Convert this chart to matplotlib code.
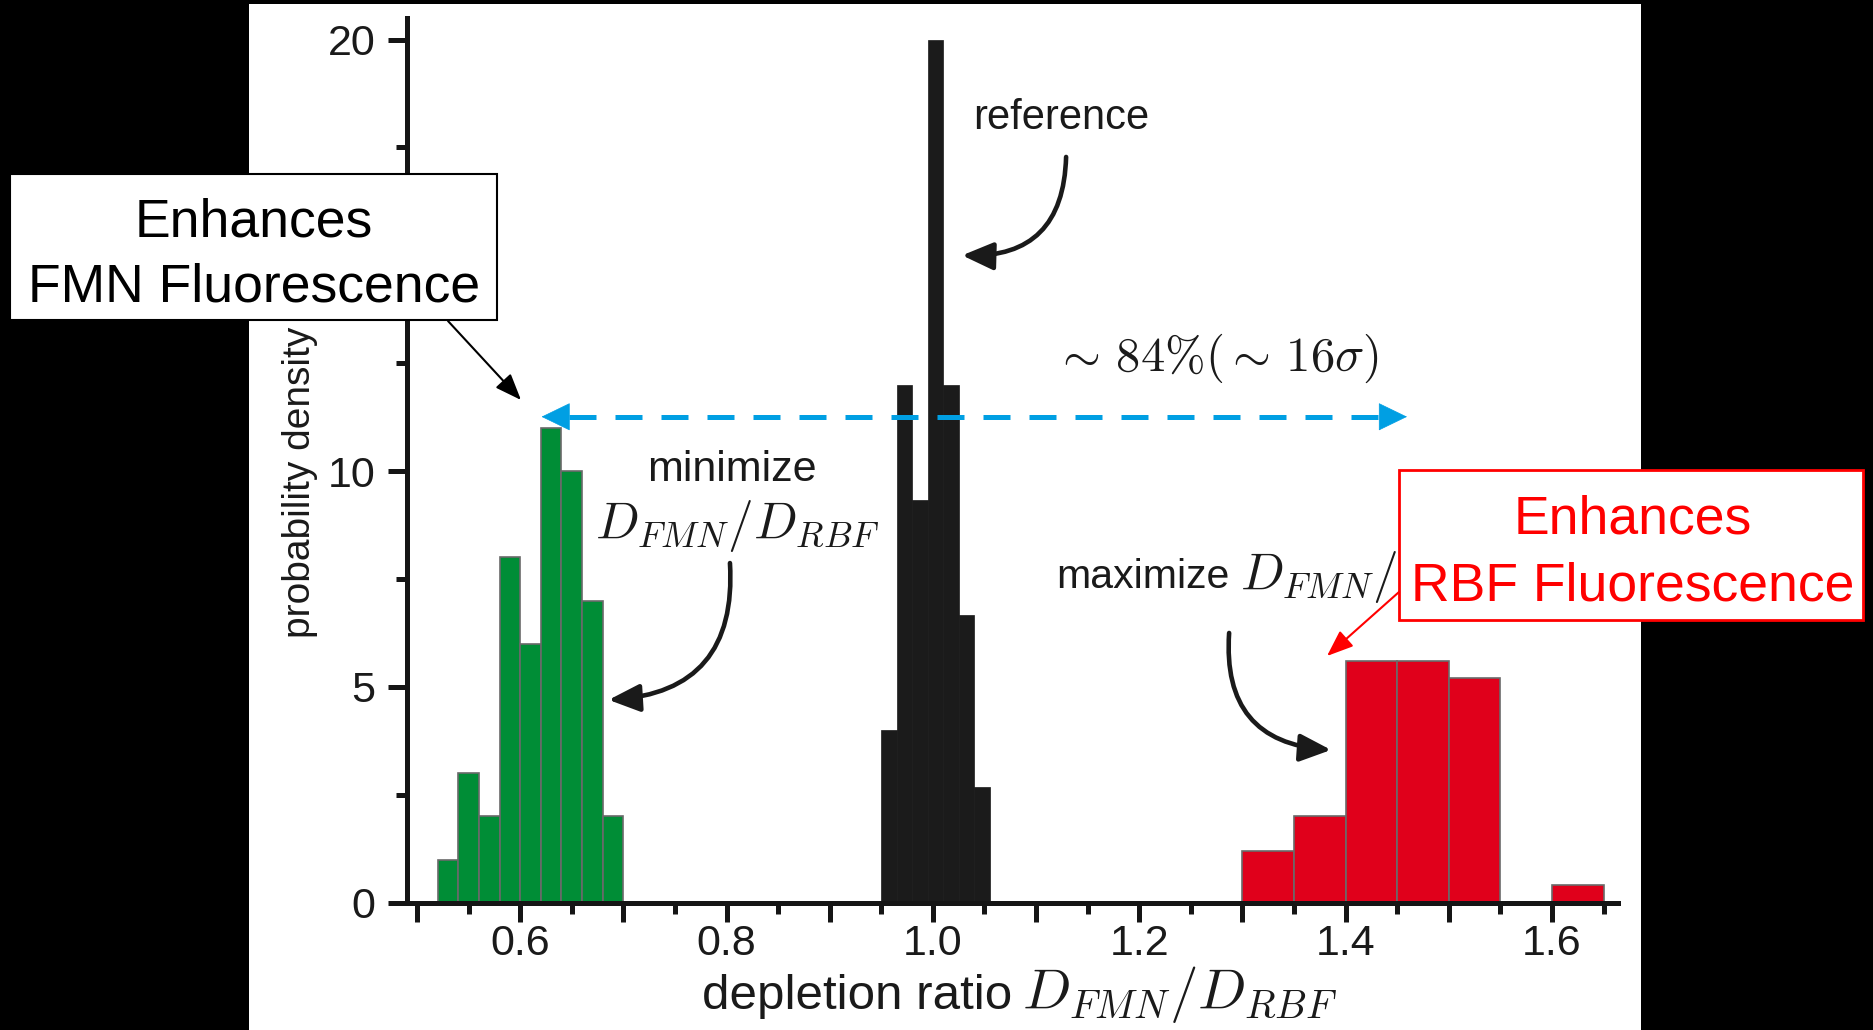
import matplotlib
matplotlib.use("Agg")
import matplotlib.pyplot as plt
from matplotlib.patches import Rectangle

plt.rcParams['font.family'] = ['Liberation Sans', 'DejaVu Sans']
plt.rcParams['mathtext.fontset'] = 'cm'

# ---------------- data (probability densities) ----------------
green_edges = [0.52, 0.54, 0.56, 0.58, 0.60, 0.62, 0.64, 0.66, 0.68, 0.70]
green_density = [1, 3, 2, 8, 6, 11, 10, 7, 2]

black_edges = [0.95, 0.965, 0.98, 0.995, 1.01, 1.025, 1.04, 1.055]
black_density = [4.0, 12.0, 9.33, 20.0, 12.0, 6.67, 2.67]

red_edges = [1.30, 1.35, 1.40, 1.45, 1.50, 1.55, 1.60, 1.65]
red_density = [1.2, 2.0, 5.6, 5.6, 5.2, 0.0, 0.4]

x_major = [0.5, 0.6, 0.7, 0.8, 0.9, 1.0, 1.1, 1.2, 1.3, 1.4, 1.5, 1.6]
x_labels = ['', '0.6', '', '0.8', '', '1.0', '', '1.2', '', '1.4', '', '1.6']
x_minor = [0.55, 0.65, 0.75, 0.85, 0.95, 1.05, 1.15, 1.25, 1.35, 1.45, 1.55, 1.65]
y_major = [0, 5, 10, 15, 20]
y_labels = ['0', '5', '10', '', '20']   # the "15" label is covered by the call-out box
y_minor = [2.5, 7.5, 12.5, 17.5]

W, H = 1873, 1030
fig = plt.figure(figsize=(W / 100, H / 100), dpi=100, facecolor='black')
fig.add_artist(Rectangle((249 / W, 0), (1641 - 249) / W, 1026 / H,
                         transform=fig.transFigure, facecolor='white',
                         edgecolor='none', zorder=-5))

ax = fig.add_axes([406.7 / W, (H - 902.7) / H, 1211.3 / W, 884.7 / H])
ax.patch.set_alpha(0)
ax.set_xlim(0.49, 1.664)
ax.set_ylim(0, 20.5)


def draw_hist(edges, dens, color, ec, lw):
    lefts = edges[:-1]
    widths = [b - a for a, b in zip(edges[:-1], edges[1:])]
    ax.bar(lefts, dens, width=widths, align='edge', color=color,
           edgecolor=ec, linewidth=lw, zorder=2)


draw_hist(green_edges, green_density, '#008d36', '#6a6a6a', 1.2)
draw_hist(black_edges, black_density, '#1b1b1b', '#1b1b1b', 0.5)
draw_hist(red_edges, red_density, '#e0001b', '#6a6a6a', 1.2)

for s in ['top', 'right']:
    ax.spines[s].set_visible(False)
for s in ['left', 'bottom']:
    ax.spines[s].set_linewidth(3.6)
    ax.spines[s].set_color('#151515')
    ax.spines[s].set_zorder(3)

ax.set_xticks(x_major)
ax.set_xticklabels(x_labels)
ax.set_xticks(x_minor, minor=True)
ax.set_yticks(y_major)
ax.set_yticklabels(y_labels)
ax.set_yticks(y_minor, minor=True)
ax.tick_params(axis='both', which='major', direction='out', length=13.5,
               width=3.6, color='#151515', labelsize=31, labelcolor='#1a1a1a')
ax.tick_params(axis='both', which='minor', direction='out', length=8,
               width=3.6, color='#151515')
ax.tick_params(axis='x', which='major', pad=2)
ax.tick_params(axis='y', which='major', pad=9)

txtc = '#1a1a1a'
# x label: plain words + larger LaTeX-style ratio
ax.set_xlabel('depletion ratio', fontsize=35.5, color=txtc,
              ha='left', va='baseline')
ax.xaxis.set_label_coords(0.2438, -0.1202)
ax.text(0.5079, -0.1202, r'$D_{FMN}/D_{RBF}$', transform=ax.transAxes,
        ha='left', va='baseline', fontsize=41, color=txtc)

ax.set_ylabel('probability density', fontsize=28, color=txtc, va='center')
ax.yaxis.set_label_coords(-0.088, 0.4749)

ax.text(1.1241, 18.18, 'reference', ha='center', va='center', fontsize=30,
        color=txtc)
ax.text(0.8054, 10.02, 'minimize', ha='center', va='center', fontsize=31,
        color=txtc)
ax.text(0.8101, 8.73, r'$D_{FMN}/D_{RBF}$', ha='center', va='center',
        fontsize=37, color=txtc)
ax.text(1.1195, 7.54, 'maximize', ha='left', va='center', fontsize=29.5,
        color=txtc)
ax.text(1.2975, 7.54, r'$D_{FMN}/D_{RBF}$', ha='left', va='center',
        fontsize=37, color=txtc)
ax.text(1.2745, 12.62, r'$\sim\,84\%(\sim\,16\sigma)$', ha='center',
        va='center', fontsize=35, color=txtc)

# curved black arrows
arrow_kw = dict(arrowstyle='-|>,head_length=0.95,head_width=0.42',
                mutation_scale=20, lw=3.3, color=txtc, shrinkA=0, shrinkB=0)
ax.annotate('', xy=(1.0283, 15.0), xytext=(1.1291, 17.28),
            arrowprops=dict(connectionstyle='arc3,rad=-0.5', **arrow_kw))
ax.annotate('', xy=(0.6857, 4.70), xytext=(0.8033, 7.87),
            arrowprops=dict(connectionstyle='arc3,rad=-0.5', **arrow_kw))
ax.annotate('', xy=(1.3859, 3.54), xytext=(1.2871, 6.25),
            arrowprops=dict(connectionstyle='arc3,rad=0.5', **arrow_kw))

# blue dashed double arrow
blue = '#009fe3'
yb = 11.26
xl_tip, xr_tip = 0.6207, 1.4595
hl = 27 / 1031.8
ax.plot([xl_tip + hl, xr_tip - hl], [yb, yb], color=blue, lw=3.6,
        dashes=(5.4, 3.8), solid_capstyle='butt', zorder=4)
head_kw = dict(arrowstyle='-|>,head_length=0.97,head_width=0.47',
               mutation_scale=20, lw=0.5, color=blue, shrinkA=0, shrinkB=0)
ax.annotate('', xy=(xl_tip, yb), xytext=(xl_tip + hl, yb), arrowprops=head_kw,
            zorder=4)
ax.annotate('', xy=(xr_tip, yb), xytext=(xr_tip - hl, yb), arrowprops=head_kw,
            zorder=4)

# overlay in pixel space for the call-out boxes
ov = fig.add_axes([0, 0, 1, 1], zorder=10)
ov.set_xlim(0, W)
ov.set_ylim(H, 0)
ov.axis('off')

ov.add_patch(Rectangle((9.6, 174), 487.4, 146, facecolor='white',
                       edgecolor='black', lw=1.5))
ov.text(254, 255, 'Enhances\nFMN Fluorescence', ha='center', va='center',
        fontsize=38.5, color='black', linespacing=1.38)
ov.annotate('', xy=(521, 400), xytext=(448, 321),
            arrowprops=dict(arrowstyle='-|>,head_length=0.9,head_width=0.35',
                            mutation_scale=18, lw=1.5, color='black',
                            shrinkA=0, shrinkB=0))

red = '#ff0000'
ov.add_patch(Rectangle((1399, 470), 464, 150, facecolor='white',
                       edgecolor=red, lw=2))
ov.text(1633, 553, 'Enhances\nRBF Fluorescence', ha='center', va='center',
        fontsize=38.5, color=red, linespacing=1.42)
ov.annotate('', xy=(1327, 656), xytext=(1399, 592),
            arrowprops=dict(arrowstyle='-|>,head_length=0.9,head_width=0.35',
                            mutation_scale=18, lw=1.5, color=red,
                            shrinkA=0, shrinkB=0))

fig.savefig('out.png', dpi=100, facecolor='black')
